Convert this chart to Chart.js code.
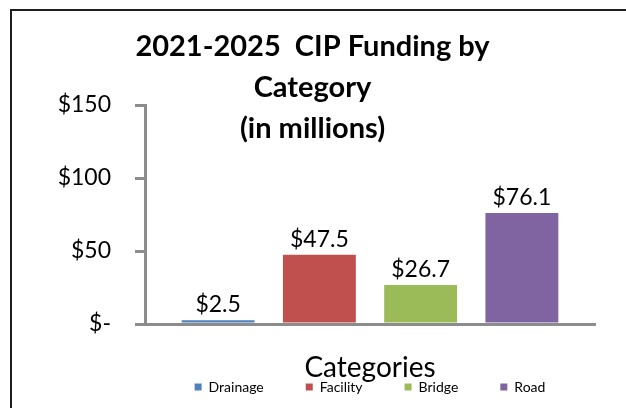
<!DOCTYPE html>
<html>
<head>
<meta charset="utf-8">
<script src="https://cdn.jsdelivr.net/npm/chart.js@4.4.1/dist/chart.umd.min.js"></script>
<style>
  html, body { margin: 0; padding: 0; background: #fff; overflow: hidden; }
  #wrap { position: relative; width: 626px; height: 408px; }
  #frame { position: absolute; left: 10px; top: 9px; width: 640px; height: 420px;
           border: 2px solid #1e1e1e; box-sizing: border-box; pointer-events: none; }
</style>
</head>
<body>
<div id="wrap">
  <canvas id="chart" width="626" height="408"></canvas>
  <div id="frame"></div>
</div>
<script>
// ----- DATA -----
const categories = ['Drainage', 'Facility', 'Bridge', 'Road'];
const funding = [2.5, 47.5, 26.7, 76.1];
const barColors = ['#4f81bd', '#c0504d', '#9bbb59', '#8064a2'];
const yTicks = [0, 50, 100, 150];
const titleLines = ['2021-2025  CIP Funding by', 'Category', '(in millions)'];
const axisColor = '#8c8c8c';

Chart.defaults.font.family = 'Lato, "Open Sans", sans-serif';
Chart.defaults.color = '#000';

// value labels above each bar
const valueLabels = {
  id: 'valueLabels',
  afterDatasetsDraw(chart) {
    const ctx = chart.ctx;
    ctx.save();
    ctx.font = '23px Lato, sans-serif';
    ctx.fillStyle = '#000';
    ctx.textAlign = 'center';
    ctx.textBaseline = 'alphabetic';
    chart.data.datasets.forEach((ds, i) => {
      const bar = chart.getDatasetMeta(i).data[0];
      ctx.fillText('$' + ds.data[0].toFixed(1), bar.x, bar.y - 8);
    });
    ctx.restore();
  }
};

const ctx = document.getElementById('chart').getContext('2d');
const chart = new Chart(ctx, {
  type: 'bar',
  data: {
    labels: [''],
    datasets: categories.map((name, i) => ({
      label: name,
      data: [funding[i]],
      backgroundColor: barColors[i],
      borderWidth: 0,
      categoryPercentage: 0.9,
      barPercentage: 0.72
    }))
  },
  options: {
    responsive: false,
    animation: false,
    layout: { padding: { left: 15, right: 16, top: 0, bottom: 4 } },
    plugins: {
      title: {
        display: true,
        text: titleLines,
        font: { size: 29, weight: 'bold', lineHeight: '41px' },
        color: '#000',
        padding: { top: 26.5, bottom: -44.5 }
      },
      legend: {
        position: 'bottom',
        fullSize: false,
        labels: { boxWidth: 7, boxHeight: 7, padding: 42, font: { size: 14 }, color: '#000' }
      },
      tooltip: { enabled: false }
    },
    scales: {
      x: {
        grid: { display: true, drawOnChartArea: false, drawTicks: false },
        border: { display: true, color: axisColor, width: 3 },
        ticks: { display: false },
        title: { display: true, text: 'Categories', font: { size: 28 }, color: '#000', padding: { top: 0, bottom: -47 } },
        afterFit: s => { s.height = 14; }
      },
      y: {
        min: 0,
        max: 150,
        afterBuildTicks: s => { s.ticks = yTicks.map(v => ({ value: v })); },
        grid: { display: true, drawOnChartArea: false, drawTicks: true, tickLength: 10, color: axisColor, lineWidth: 3 },
        border: { display: true, color: axisColor, width: 3 },
        ticks: {
          padding: 24,
          font: { size: 23 },
          color: '#000',
          callback: v => v === 0 ? '$-' : '$' + v
        },
        afterFit: s => { s.width = 130; }
      },
      // empty right-hand gutter so the plot ends where the reference's does
      gutter: {
        position: 'right',
        display: true,
        grid: { display: false },
        border: { display: false },
        ticks: { display: false },
        afterFit: s => { s.width = 15; }
      }
    }
  },
  plugins: [valueLabels]
});
</script>
</body>
</html>
